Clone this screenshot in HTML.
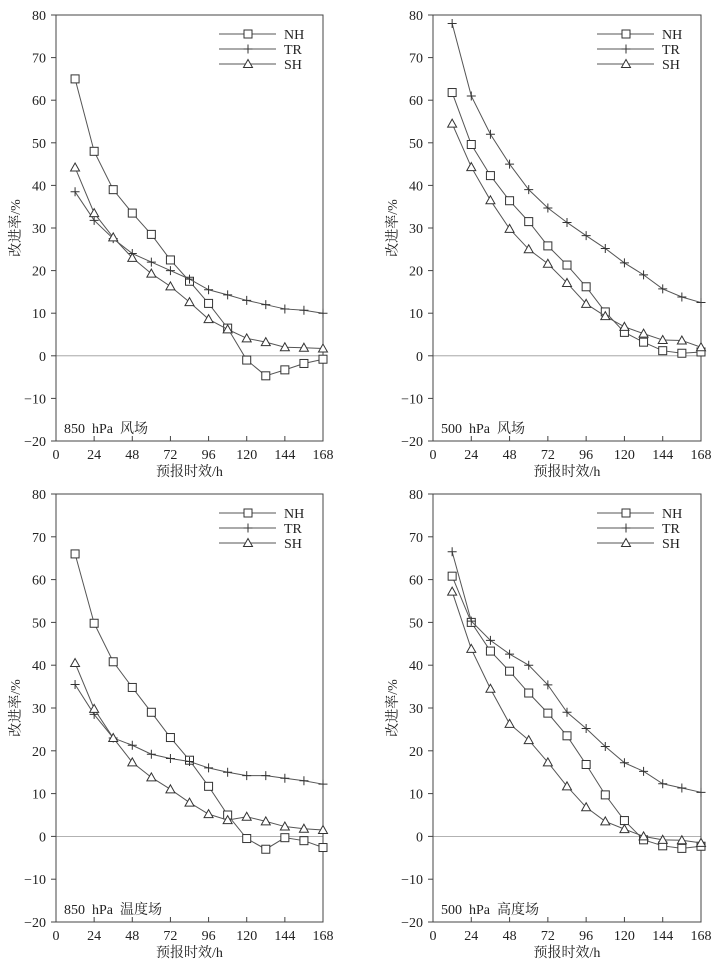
<!DOCTYPE html>
<html><head><meta charset="utf-8">
<style>
body{margin:0;background:#fff;}
svg{display:block;font-family:"Liberation Serif","Noto Serif CJK SC",serif;}
</style></head>
<body>
<svg id="chart" width="720" height="968" viewBox="0 0 720 968"></svg>
<script>
const hours=[12,24,36,48,60,72,84,96,108,120,132,144,156,168];
const xTicks=[0,24,48,72,96,120,144,168];
const yTicks=[-20,-10,0,10,20,30,40,50,60,70,80];
const seriesNames=["NH","TR","SH"];
const p1NH=[65,48,39,33.5,28.5,22.5,17.5,12.3,6.5,-1,-4.7,-3.3,-1.8,-0.8];
const p1TR=[38.5,31.8,27.5,24,22,20,18,15.5,14.3,13,12,11,10.7,10];
const p1SH=[44.2,33.5,27.8,23,19.3,16.3,12.6,8.6,6.2,4.1,3.2,2,1.9,1.7];
const p2NH=[61.8,49.6,42.3,36.4,31.5,25.8,21.3,16.2,10.3,5.5,3.2,1.2,0.6,0.9];
const p2TR=[78,61,52,45,39,34.7,31.3,28.2,25.2,21.8,19,15.7,13.8,12.5];
const p2SH=[54.5,44.3,36.5,29.8,25,21.6,17.1,12.2,9.3,6.8,5.2,3.7,3.6,2];
const p3NH=[66,49.8,40.8,34.8,29,23.1,17.8,11.7,5,-0.5,-3,-0.3,-1,-2.6];
const p3TR=[35.5,28.5,23,21.3,19.2,18.2,17.5,16,15,14.2,14.2,13.6,13,12.2];
const p3SH=[40.5,29.8,23,17.3,13.8,11,7.9,5.2,3.8,4.6,3.5,2.3,1.8,1.5];
const p4NH=[60.8,50,43.3,38.6,33.5,28.8,23.5,16.8,9.7,3.7,-0.8,-2.2,-2.8,-2.3];
const p4TR=[66.5,50.3,45.8,42.6,40,35.4,29,25.2,21,17.2,15.2,12.3,11.3,10.3];
const p4SH=[57.2,43.8,34.5,26.3,22.5,17.3,11.7,6.8,3.5,1.7,0,-0.8,-0.9,-1.5];
const titles=["850\u00a0\u00a0hPa\u00a0\u00a0风场","500\u00a0\u00a0hPa\u00a0\u00a0风场","850\u00a0\u00a0hPa\u00a0\u00a0温度场","500\u00a0\u00a0hPa\u00a0\u00a0高度场"];

const svg=document.getElementById('chart');
const NS='http://www.w3.org/2000/svg';
function mk(tag,attrs,parent){const e=document.createElementNS(NS,tag);for(const k in attrs)e.setAttribute(k,attrs[k]);(parent||svg).appendChild(e);return e;}
function marker(g,type,x,y){
  if(type==="NH"){const m=mk('rect',{x:x-4,y:y-4,width:8,height:8,fill:'#fff',stroke:'#333','stroke-width':1},g);}
  else if(type==="TR"){const m=mk('path',{d:`M${x-4.5} ${y}H${x+4.5}M${x} ${y-4.5}V${y+4.5}`,stroke:'#333','stroke-width':1},g);}
  else {const m=mk('path',{d:`M${x} ${y-4.5}L${x+4.5} ${y+3.5}L${x-4.5} ${y+3.5}Z`,fill:'#fff',stroke:'#333','stroke-width':1},g);}
}
const panels=[
 {x0:56,x1:323,y0:15,y1:441,data:[p1NH,p1TR,p1SH]},
 {x0:433,x1:701,y0:15,y1:441,data:[p2NH,p2TR,p2SH]},
 {x0:56,x1:323,y0:494,y1:922,data:[p3NH,p3TR,p3SH]},
 {x0:433,x1:701,y0:494,y1:922,data:[p4NH,p4TR,p4SH]}
];
panels.forEach((P,i)=>{
  const g=mk('g',{});
  
  
  const X=h=>P.x0+(h/168)*(P.x1-P.x0);
  const Y=v=>P.y1-(v+20)/100*(P.y1-P.y0);
  const zl=mk('line',{x1:P.x0,x2:P.x1,y1:Y(0),y2:Y(0),stroke:'#999','stroke-width':0.8},g);
  
  const fr=mk('rect',{x:P.x0,y:P.y0,width:P.x1-P.x0,height:P.y1-P.y0,fill:'none',stroke:'#444','stroke-width':1},g);
  
  yTicks.forEach(v=>{
    mk('line',{x1:P.x0-5,x2:P.x0,y1:Y(v),y2:Y(v),stroke:'#444'},g);
    const t=mk('text',{x:P.x0-10,y:Y(v)+5,'text-anchor':'end','font-size':14,fill:'#222'},g);
    t.textContent=v<0?'\u2212'+(-v):v;
    
  });
  xTicks.forEach(h=>{
    mk('line',{x1:X(h),x2:X(h),y1:P.y1,y2:P.y1-5,stroke:'#444'},g);
    const t=mk('text',{x:X(h),y:P.y1+18,'text-anchor':'middle','font-size':14,fill:'#222'},g);
    t.textContent=h;
    
  });
  const xt=mk('text',{x:(P.x0+P.x1)/2,y:P.y1+35,'text-anchor':'middle','font-size':14,fill:'#222'},g);
  xt.textContent='预报时效/h';
  
  const yx=P.x0-36,yy=(P.y0+P.y1)/2;
  const yt=mk('text',{x:yx,y:yy,'text-anchor':'middle','font-size':14,fill:'#222',transform:`rotate(-90 ${yx} ${yy})`},g);
  yt.textContent='改进率/%';
  
  const pt=mk('text',{x:P.x0+8,y:P.y1-8,'font-size':14,fill:'#222'},g);
  pt.textContent=titles[i];
  
  P.data.forEach((arr,si)=>{
    const pts=arr.map((v,k)=>X(hours[k])+','+Y(v)).join(' ');
    const pl=mk('polyline',{points:pts,fill:'none',stroke:'#555','stroke-width':1},g);
    
    arr.forEach((v,k)=>marker(g,seriesNames[si],X(hours[k]),Y(v)));
  });
  seriesNames.forEach((n,si)=>{
    const ly=P.y0+19+si*15, lx=P.x1-104;
    const lg=mk('g',{},g);
    
    mk('line',{x1:lx,x2:lx+57,y1:ly,y2:ly,stroke:'#555'},lg);
    marker(lg,n,lx+29,ly);
    const t=mk('text',{x:lx+65,y:ly+5,'font-size':14,fill:'#222'},lg);
    t.textContent=n;
  });
});
</script>
</body></html>
